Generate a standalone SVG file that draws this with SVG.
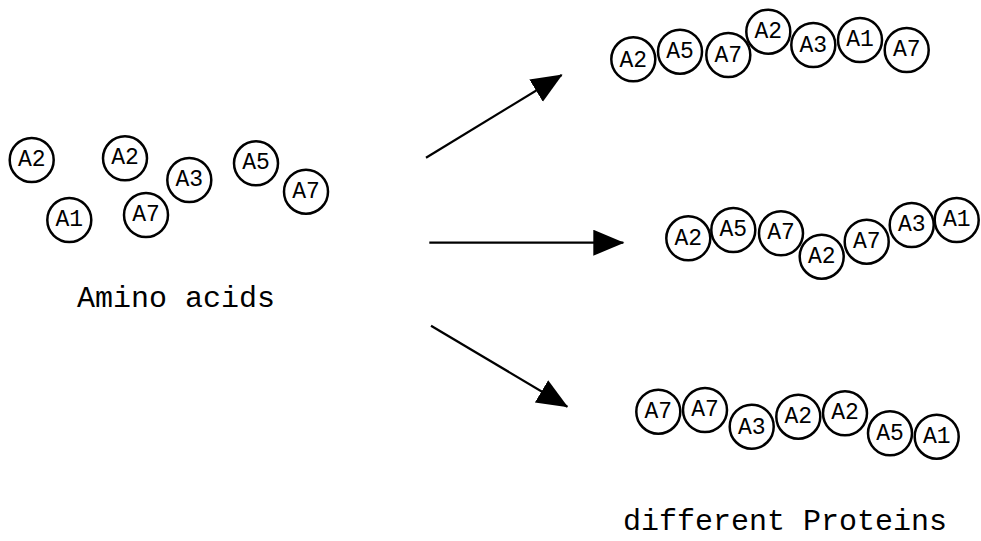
<svg xmlns="http://www.w3.org/2000/svg" width="981" height="541" viewBox="0 0 981 541">
<defs>
<style>
.aa circle{fill:#fff;stroke:#000;stroke-width:2.5}
.aa text{font-family:"Liberation Mono","Courier New",monospace;font-size:23px;fill:#000;text-anchor:middle;dominant-baseline:central}
.lbl{font-family:"Liberation Mono","Courier New",monospace;font-size:30px;fill:#000}
.conn line{stroke:#000;stroke-width:2.2;fill:none}
</style>
<marker id="ah" markerUnits="userSpaceOnUse" markerWidth="34" markerHeight="28" refX="30" refY="13" orient="auto">
<path d="M0,0 L31,13 L0,26 Z" fill="#000"/>
</marker>
</defs>
<rect width="981" height="541" fill="#fff"/>

<g id="amino-acids">
<g id="free-a2-1" class="aa"><circle cx="31.7" cy="160" r="22"/><text x="31.7" y="160">A2</text></g>
<g id="free-a1" class="aa"><circle cx="69.3" cy="220" r="22"/><text x="69.3" y="220">A1</text></g>
<g id="free-a2-2" class="aa"><circle cx="125" cy="158.3" r="22"/><text x="125" y="158.3">A2</text></g>
<g id="free-a7-1" class="aa"><circle cx="146" cy="215" r="22"/><text x="146" y="215">A7</text></g>
<g id="free-a3" class="aa"><circle cx="189.3" cy="180" r="22"/><text x="189.3" y="180">A3</text></g>
<g id="free-a5" class="aa"><circle cx="256" cy="163.3" r="22"/><text x="256" y="163.3">A5</text></g>
<g id="free-a7-2" class="aa"><circle cx="306" cy="191.7" r="22"/><text x="306" y="191.7">A7</text></g>
</g>
<text id="amino-label" class="lbl" x="77" y="307">Amino acids</text>

<g id="protein-1">
<g class="aa"><circle cx="633.3" cy="59.3" r="22"/><text x="633.3" y="61">A2</text></g>
<g class="aa"><circle cx="680" cy="51.7" r="22"/><text x="680" y="51.7">A5</text></g>
<g class="aa"><circle cx="728.3" cy="55" r="22"/><text x="728.3" y="56">A7</text></g>
<g class="aa"><circle cx="768.3" cy="31.7" r="22"/><text x="768.3" y="31.7">A2</text></g>
<g class="aa"><circle cx="813.3" cy="45" r="22"/><text x="813.3" y="46">A3</text></g>
<g class="aa"><circle cx="860" cy="40" r="22"/><text x="860" y="40">A1</text></g>
<g class="aa"><circle cx="906.7" cy="50" r="22"/><text x="906.7" y="50">A7</text></g>
</g>

<g id="protein-2">
<g class="aa"><circle cx="688.3" cy="238.3" r="22"/><text x="688.3" y="239">A2</text></g>
<g class="aa"><circle cx="733.3" cy="230" r="22"/><text x="733.3" y="230">A5</text></g>
<g class="aa"><circle cx="781" cy="233.3" r="22"/><text x="781" y="233.3">A7</text></g>
<g class="aa"><circle cx="821.7" cy="256.7" r="22"/><text x="821.7" y="257">A2</text></g>
<g class="aa"><circle cx="866.7" cy="241.7" r="22"/><text x="866.7" y="242">A7</text></g>
<g class="aa"><circle cx="911.7" cy="225" r="22"/><text x="911.7" y="225">A3</text></g>
<g class="aa"><circle cx="956.7" cy="220" r="22"/><text x="956.7" y="220">A1</text></g>
</g>

<g id="protein-3">
<g class="aa"><circle cx="658.3" cy="411.7" r="22"/><text x="658.3" y="411.7">A7</text></g>
<g class="aa"><circle cx="705" cy="410" r="22"/><text x="705" y="410">A7</text></g>
<g class="aa"><circle cx="751.7" cy="426.7" r="22"/><text x="751.7" y="428">A3</text></g>
<g class="aa"><circle cx="798.3" cy="416.7" r="22"/><text x="798.3" y="416.7">A2</text></g>
<g class="aa"><circle cx="845" cy="413.3" r="22"/><text x="845" y="413.3">A2</text></g>
<g class="aa"><circle cx="890" cy="433.3" r="22"/><text x="890" y="434">A5</text></g>
<g class="aa"><circle cx="936.7" cy="436.7" r="22"/><text x="936.7" y="437">A1</text></g>
</g>
<text id="proteins-label" class="lbl" x="623" y="530">different Proteins</text>

<g id="connectors" class="conn">
<line x1="426" y1="157.7" x2="561.7" y2="75" marker-end="url(#ah)"/>
<line x1="429.3" y1="242.7" x2="623.3" y2="242.7" marker-end="url(#ah)"/>
<line x1="431" y1="325.7" x2="567.3" y2="406.7" marker-end="url(#ah)"/>
</g>
</svg>
